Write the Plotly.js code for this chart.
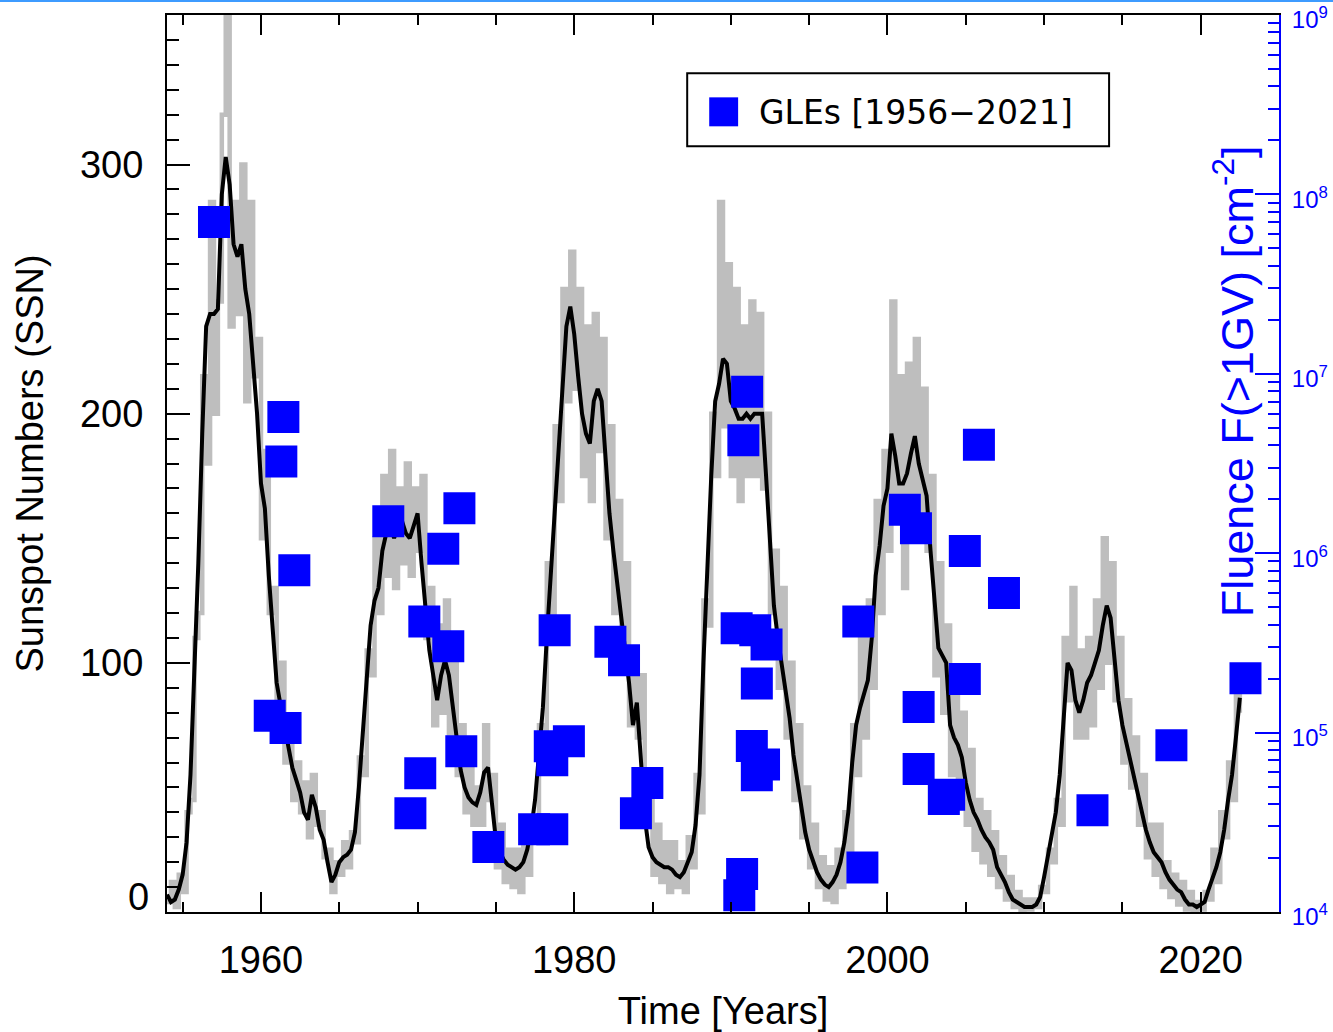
<!DOCTYPE html>
<html>
<head>
<meta charset="utf-8">
<script src="https://cdn.plot.ly/plotly-3.0.1.min.js"></script>
<style>
  html, body { margin: 0; padding: 0; background: #ffffff; }
  #chart { width: 1333px; height: 1032px; }
</style>
</head>
<body>
<div id="chart"></div>
<script>
// ---------------- DATA ----------------
// Time grid of the sunspot series: quarterly samples starting 1954.0
const ssnStartYear = 1954.0;
const ssnStep = 0.25;

// Smoothed sunspot number (black curve), one value per quarter, 1954.00 ... 2022.50
const ssnSmoothed = [
  7, 4, 5, 9,            // 1954
  15, 28, 55, 95,        // 1955
  140, 192, 235, 240,    // 1956
  240, 242, 288, 303,    // 1957
  292, 268, 263, 268,    // 1958
  250, 240, 222, 200,    // 1959
  172, 162, 135, 115,    // 1960
  92, 83, 74, 65,        // 1961
  58, 53, 48, 40,        // 1962
  37, 47, 42, 33,        // 1963
  29, 20, 12, 15,        // 1964
  20, 22, 23, 25,        // 1965
  32, 50, 70, 95,        // 1966
  115, 125, 130, 145,    // 1967
  152, 155, 150, 155,    // 1968
  157, 152, 150, 155,    // 1969
  160, 140, 122, 105,    // 1970
  95, 85, 95, 101,       // 1971
  95, 82, 68, 57,        // 1972
  50, 46, 44, 43,        // 1973
  48, 56, 58, 42,        // 1974
  29, 24, 21, 19,        // 1975
  18, 17, 18, 20,        // 1976
  25, 33, 45, 62,        // 1977
  82, 110, 135, 165,     // 1978
  190, 215, 235, 243,    // 1979
  232, 215, 200, 192,    // 1980
  188, 205, 210, 205,    // 1981
  180, 160, 145, 132,    // 1982
  120, 105, 92, 75,      // 1983
  84, 62, 38, 26,        // 1984
  22, 20, 19, 18,        // 1985
  18, 17, 15, 14,        // 1986
  16, 20, 24, 35,        // 1987
  55, 100, 140, 175,     // 1988
  205, 212, 222, 220,    // 1989
  205, 202, 198, 198,    // 1990
  200, 198, 200, 200,    // 1991
  200, 175, 150, 123,    // 1992
  110, 100, 90, 78,      // 1993
  63, 52, 42, 32,        // 1994
  25, 20, 16, 13,        // 1995
  11, 10, 12, 15,        // 1996
  20, 28, 40, 60,        // 1997
  75, 82, 88, 93,        // 1998
  110, 135, 147, 163,    // 1999
  170, 192, 183, 172,    // 2000
  172, 176, 184, 191,    // 2001
  180, 173, 167, 145,    // 2002
  125, 106, 103, 100,    // 2003
  75, 70, 67, 62,        // 2004
  52, 45, 40, 37,        // 2005
  33, 30, 28, 25,        // 2006
  18, 15, 12, 8,         // 2007
  5, 4, 3, 2,            // 2008
  2, 2, 3, 6,            // 2009
  14, 22, 30, 40,        // 2010
  55, 80, 100, 97,       // 2011
  85, 80, 85, 92,        // 2012
  95, 100, 105, 115,     // 2013
  123, 118, 100, 85,     // 2014
  75, 68, 62, 55,        // 2015
  48, 40, 33, 28,        // 2016
  24, 22, 20, 16,        // 2017
  13, 11, 9, 8,          // 2018
  5, 3, 3, 2,            // 2019
  3, 4, 9, 13,           // 2020
  18, 24, 33, 45,        // 2021
  55, 70, 86             // 2022
];

// Raw (monthly-type) sunspot number, grey band, same quarterly grid
const ssnRaw = [
  4, 12, 2, 15,          // 1954
  8, 40, 45, 110,        // 1955
  120, 215, 180, 285,    // 1956
  200, 245, 320, 375,    // 1957
  235, 285, 240, 300,    // 1958
  205, 285, 215, 230,    // 1959
  150, 185, 120, 130,    // 1960
  80, 100, 60, 75,       // 1961
  45, 60, 40, 52,        // 1962
  30, 55, 35, 40,        // 1963
  22, 25, 8, 20,         // 1964
  15, 28, 18, 32,        // 1965
  28, 62, 55, 105,       // 1966
  95, 150, 120, 175,     // 1967
  135, 185, 130, 170,    // 1968
  140, 180, 135, 170,    // 1969
  145, 175, 110, 130,    // 1970
  75, 115, 80, 125,      // 1971
  70, 105, 55, 75,       // 1972
  40, 60, 35, 50,        // 1973
  35, 75, 45, 55,        // 1974
  18, 35, 12, 25,        // 1975
  10, 25, 8, 28,         // 1976
  15, 35, 30, 75,        // 1977
  70, 140, 115, 195,     // 1978
  165, 250, 205, 265,    // 1979
  210, 250, 175, 235,    // 1980
  165, 240, 185, 230,    // 1981
  150, 195, 120, 165,    // 1982
  100, 140, 75, 100,     // 1983
  70, 95, 35, 45,        // 1984
  15, 35, 12, 28,        // 1985
  8, 28, 10, 20,         // 1986
  8, 30, 18, 55,         // 1987
  40, 125, 115, 200,     // 1988
  175, 285, 195, 260,    // 1989
  175, 250, 165, 235,    // 1990
  175, 245, 175, 240,    // 1991
  170, 200, 120, 145,    // 1992
  90, 130, 70, 100,      // 1993
  45, 75, 30, 50,        // 1994
  18, 35, 10, 22,        // 1995
  5, 18, 4, 25,          // 1996
  10, 40, 25, 75,        // 1997
  55, 110, 70, 125,      // 1998
  90, 165, 120, 185,     // 1999
  145, 245, 160, 215,    // 2000
  130, 220, 160, 230,    // 2001
  150, 210, 145, 175,    // 2002
  95, 140, 80, 115,      // 2003
  55, 95, 50, 80,        // 2004
  35, 65, 25, 45,        // 2005
  20, 40, 15, 32,        // 2006
  10, 22, 5, 14,         // 2007
  2, 8, 0, 5,            // 2008
  1, 5, 2, 10,           // 2009
  8, 25, 20, 45,         // 2010
  35, 110, 85, 130,      // 2011
  70, 105, 70, 110,      // 2012
  75, 125, 90, 150,      // 2013
  100, 140, 85, 110,     // 2014
  60, 85, 50, 70,        // 2015
  35, 55, 22, 35,        // 2016
  15, 35, 10, 20,        // 2017
  6, 15, 3, 12,          // 2018
  1, 8, 0, 4,            // 2019
  1, 8, 5, 25,           // 2020
  12, 40, 30, 60,        // 2021
  45, 95, 80             // 2022
];

// GLE events: plotted time (years) and fluence F(>1GV) [cm^-2]
const gleYear = [
  1957.00, 1961.43, 1961.30, 1962.13, 1960.56, 1961.57,
  1968.13, 1969.54, 1970.17, 1970.43, 1971.64, 1971.96, 1972.67, 1972.79, 1974.52,
  1977.44, 1978.60, 1978.44, 1978.60, 1979.66, 1978.75,
  1982.31, 1983.18, 1983.94, 1984.67,
  1990.37, 1991.56, 1992.28, 1991.04, 1990.80, 1991.66, 1991.34, 1992.12, 1991.66, 1990.72, 1990.54,
  1998.14, 1998.40, 2001.11, 2001.82, 2001.99, 2001.99, 2003.60, 2003.94,
  2004.94, 2004.94, 2005.84, 2007.44,
  2013.09, 2018.13, 2022.86
];
const gleFluence = [
  7.02e7, 5.74e6, 3.25e6, 8.04e5, 1.24e5, 1.06e5,
  1.51e6, 3.55e4, 5.93e4, 4.17e5, 1.06e6, 3.03e5, 1.78e6, 7.87e4, 2.30e4,
  2.89e4, 2.89e4, 8.39e4, 7.01e4, 8.95e4, 3.72e5,
  3.21e5, 2.53e5, 3.55e4, 5.24e4,
  3.82e5, 3.72e5, 3.10e5, 7.94e6, 4.26e6, 1.88e5, 8.43e4, 6.64e4, 5.79e4, 1.63e4, 1.24e4,
  4.17e5, 1.77e4, 1.75e6, 1.38e6, 1.39e5, 6.27e4, 4.26e4, 4.50e4,
  1.03e6, 1.99e5, 4.02e6, 6.00e5,
  3.69e4, 8.49e4, 2.01e5
];

// Axis ticks
const xMajorTicks = [1960, 1980, 2000, 2020];
const xMinorTicks = [1955, 1965, 1970, 1975, 1985, 1990, 1995, 2005, 2010, 2015, 2025];
const yMajorTicks = [0, 100, 200, 300];
const yTickText = ['', '100', '200', '300'];
const fluenceTicks = [1e4, 1e5, 1e6, 1e7, 1e8, 1e9];
const fluenceTickText = ['10<sup>4</sup>', '10<sup>5</sup>', '10<sup>6</sup>', '10<sup>7</sup>', '10<sup>8</sup>', '10<sup>9</sup>'];
const legendLabel = 'GLEs [1956\u22122021]';

// ---------------- BUILD ----------------
const ssnYears = ssnSmoothed.map((_, i) => ssnStartYear + i * ssnStep);

const fluenceMinor = [];
for (let e = 4; e < 9; e++) {
  for (let m = 2; m <= 9; m++) fluenceMinor.push(m * Math.pow(10, e));
}

const FONT = 'Liberation Sans, Arial, Helvetica, sans-serif';
const BLUE = '#0000ff';

const traces = [
  {
    x: ssnYears, y: ssnRaw, type: 'scatter', mode: 'lines',
    line: { color: '#bebebe', width: 4.5, shape: 'hv' },
    hoverinfo: 'skip', showlegend: false, name: 'SSN monthly'
  },
  {
    x: ssnYears, y: ssnSmoothed, type: 'scatter', mode: 'lines',
    line: { color: '#000000', width: 4 },
    showlegend: false, name: 'SSN smoothed'
  },
  {
    x: gleYear, y: gleFluence, type: 'scatter', mode: 'markers', yaxis: 'y2',
    marker: { symbol: 'square', size: 32, color: BLUE, line: { width: 0 } },
    showlegend: false, name: legendLabel
  }
];

const layout = {
  width: 1333, height: 1032,
  margin: { l: 167, r: 54, t: 15, b: 120 },
  paper_bgcolor: '#ffffff', plot_bgcolor: '#ffffff',
  font: { family: FONT, color: '#000000', size: 38 },
  showlegend: false,
  xaxis: {
    range: [1954, 2025],
    showgrid: false, zeroline: false,
    showline: true, linecolor: '#000000', linewidth: 2, mirror: 'ticks',
    ticks: 'inside', ticklen: 20, tickwidth: 2, tickcolor: '#000000',
    tickmode: 'array', tickvals: xMajorTicks,
    ticklabelstandoff: 13,
    tickfont: { family: FONT, size: 38, color: '#000000' },
    minor: { ticks: 'inside', ticklen: 10, tickwidth: 2, tickcolor: '#000000', tickmode: 'array', tickvals: xMinorTicks, showgrid: false },
    title: { text: 'Time [Years]', font: { family: FONT, size: 38, color: '#000000' }, standoff: 20 }
  },
  yaxis: {
    range: [0, 360],
    showgrid: false, zeroline: false,
    showline: true, linecolor: '#000000', linewidth: 2, mirror: false,
    ticks: 'inside', ticklen: 23, tickwidth: 2, tickcolor: '#000000',
    tickmode: 'array', tickvals: yMajorTicks, ticktext: yTickText,
    ticklabelstandoff: 14,
    tickfont: { family: FONT, size: 38, color: '#000000' },
    minor: { ticks: 'inside', ticklen: 12, tickwidth: 2, tickcolor: '#000000', dtick: 10, showgrid: false },
    title: { text: 'Sunspot Numbers (SSN)', font: { family: FONT, size: 38, color: '#000000' }, standoff: 25 }
  },
  yaxis2: {
    overlaying: 'y', side: 'right', type: 'log',
    range: [4, 9.0005],
    showgrid: false, zeroline: false,
    showline: true, linecolor: BLUE, linewidth: 2,
    ticks: 'inside', ticklen: 24, tickwidth: 2, tickcolor: BLUE,
    tickmode: 'array', tickvals: fluenceTicks, ticktext: fluenceTickText,
    ticklabelstandoff: 6, ticklabelshift: 5, ticklabeloverflow: 'allow',
    tickfont: { family: FONT, size: 24, color: BLUE },
    minor: { ticks: 'inside', ticklen: 11, tickwidth: 2, tickcolor: BLUE, tickmode: 'array', tickvals: fluenceMinor, showgrid: false }
  },
  shapes: [
    // thin light-blue rule at the very top of the picture
    { type: 'line', xref: 'paper', yref: 'paper', x0: -0.16, x1: 1.06, y0: 1.0155, y1: 1.0155,
      line: { color: '#3d9bff', width: 2 } },
    // legend box
    { type: 'rect', xref: 'paper', yref: 'paper', x0: 0.4678, x1: 0.8472, y0: 0.8536, y1: 0.9350,
      line: { color: '#000000', width: 2 }, fillcolor: '#ffffff', layer: 'above' },
    // legend symbol
    { type: 'rect', xref: 'paper', yref: 'paper', x0: 0.4876, x1: 0.5136, y0: 0.8759, y1: 0.9082,
      line: { width: 0 }, fillcolor: BLUE, layer: 'above' }
  ],
  annotations: [
    { text: '0', xref: 'paper', yref: 'y', x: 0, y: 0, xanchor: 'right', yanchor: 'middle',
      xshift: -16, yshift: 15, showarrow: false, font: { family: FONT, size: 38, color: '#000000' } },
    { text: 'Fluence F(>1GV) [cm<sup>-2</sup>]', xref: 'paper', yref: 'paper',
      x: 0.9595, y: 0.5916, xanchor: 'center', yanchor: 'middle', textangle: -90,
      showarrow: false, font: { family: FONT, size: 45, color: BLUE } },
    { text: legendLabel, xref: 'paper', yref: 'paper', x: 0.5307, y: 0.8915,
      xanchor: 'left', yanchor: 'middle', showarrow: false,
      font: { family: 'DejaVu Sans, sans-serif', size: 33, color: '#000000' } }
  ]
};

Plotly.newPlot('chart', traces, layout, { staticPlot: true, displayModeBar: false });
</script>
</body>
</html>
